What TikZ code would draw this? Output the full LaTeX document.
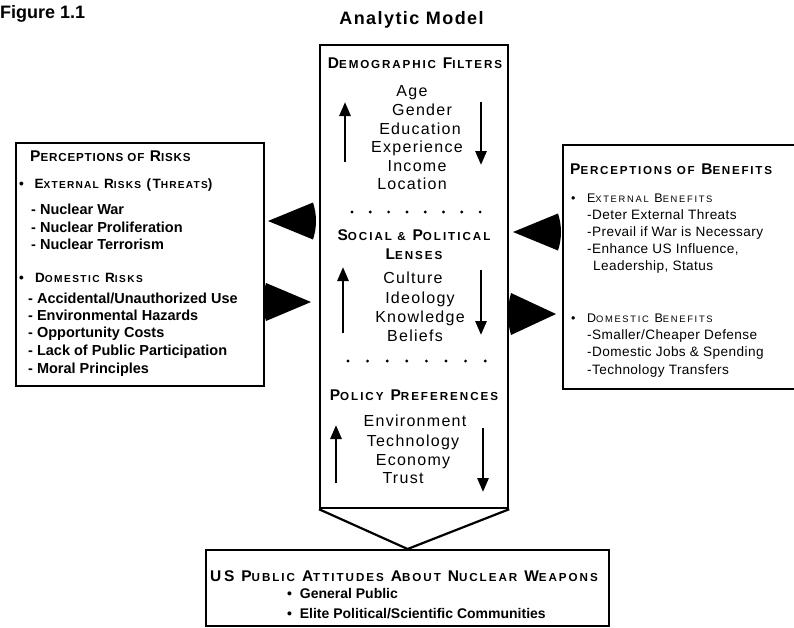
\documentclass[tikz,border=0pt]{standalone}
\usepackage{fontspec}
\setmainfont{Liberation Sans}
\usetikzlibrary{arrows.meta}
\makeatletter
% reduced capitals for the small-caps headings
\newcommand\lc[1]{{\fontsize{\fpeval{0.75*\f@size}}{\fpeval{0.75*\f@size}}\selectfont #1}}
\makeatother
\newcommand\spaced[1]{\addfontfeature{LetterSpace=#1}}

\tikzset{
  frame/.style={draw=black, line width=2.2pt, inner sep=0pt, anchor=north west},
  lbl/.style={inner sep=0pt, anchor=base west},
  mid/.style={inner sep=0pt, anchor=base},
  title/.style={font=\bfseries\fontsize{18}{18}\selectfont\spaced{#1}},
  head/.style={font=\bfseries\fontsize{15.5}{15.5}\selectfont\spaced{#1}},
  subhead/.style={font=\bfseries\fontsize{13.5}{13.5}\selectfont\spaced{#1}},
  subheadlight/.style={font=\fontsize{12.5}{12.5}\selectfont\spaced{#1}},
  risk/.style={font=\bfseries\fontsize{14.5}{14.5}\selectfont},
  benefit/.style={font=\fontsize{13.6}{13.6}\selectfont\spaced{3}},
  factor/.style={font=\fontsize{16}{16}\selectfont\spaced{8}},
  outitem/.style={font=\bfseries\fontsize{14}{14}\selectfont},
  updown/.style={line width=2.8pt, -{Triangle[length=14pt,width=11pt]}},
  chevron/.style={line width=2.2pt, line join=miter},
  pics/wedgeleft/.style={code={
    \fill (0,0) -- (45,-#1) .. controls (49,-#1/3) and (49,#1/3) .. (45,#1) -- cycle;}},
  pics/wedgeright/.style={code={
    \fill (0,0) -- (-45,-#1) .. controls (-49,-#1/3) and (-49,#1/3) .. (-45,#1) -- cycle;}},
}

\begin{document}
\begin{tikzpicture}[x=1pt, y=-1pt]
\useasboundingbox (0,0) rectangle (794,627);
\clip (0,0) rectangle (794,627);

% titles
\node[lbl, title=0] (fig) at (0,18.5) {Figure 1.1};
\node[mid, title=8] (model) at (411.5,24) {Analytic Model};

% frames
\node[frame, minimum width=188pt, minimum height=463pt] (core) at (319,44) {};
\node[frame, minimum width=248pt, minimum height=243pt] (risks) at (15,142) {};
\node[frame, minimum width=240pt, minimum height=244pt] (benefits) at (562,144) {};
\node[frame, minimum width=403pt, minimum height=76pt] (attitudes) at (205,549) {};

% funnel from the central column to the outcome box
\draw[chevron] (core.south west) -- (attitudes.north) -- (core.south east);

% central column: demographic filters
\node[mid, head=16] (demo) at (415,68.5) {D\lc{EMOGRAPHIC} F\lc{ILTERS}};
\node[mid, factor] (age) at (412,96) {Age};
\node[mid, factor] (gender) at (422,115) {Gender};
\node[mid, factor] (edu) at (420,134) {Education};
\node[mid, factor] (exp) at (417,152) {Experience};
\node[mid, factor] (inc) at (417,171) {Income};
\node[mid, factor] (loc) at (412,189) {Location};
\draw[updown] (345,162) -- (345,102);
\draw[updown] (481,102) -- (481,165);
\foreach \i in {0,...,7} \fill (352+\i*18.3,212) circle (1.6);

% social and political lenses
\node[mid, head=17] (social) at (414,240.5) {S\lc{OCIAL \&} P\lc{OLITICAL}};
\node[mid, head=17] (lenses) at (414,259.5) {L\lc{ENSES}};
\node[mid, factor] (cult) at (413,283) {Culture};
\node[mid, factor] (ideo) at (420,303) {Ideology};
\node[mid, factor] (know) at (420,322) {Knowledge};
\node[mid, factor] (bel) at (415,341) {Beliefs};
\draw[updown] (343,333) -- (343,267);
\draw[updown] (481,270) -- (481,335);
\foreach \i in {0,...,7} \fill (348+\i*19.6,361) circle (1.6);

% policy preferences
\node[mid, head=17] (policy) at (414,400.5) {P\lc{OLICY} P\lc{REFERENCES}};
\node[mid, factor] (env) at (415,426) {Environment};
\node[mid, factor] (tech) at (413,446) {Technology};
\node[mid, factor] (econ) at (413,465) {Economy};
\node[mid, factor] (trust) at (403,483) {Trust};
\draw[updown] (336,483) -- (336,425);
\draw[updown] (483,428) -- (483,492);

% perceptions of risks
\node[lbl, head=7] (riskhead) at (30,161) {P\lc{ERCEPTIONS OF} R\lc{ISKS}};
\node[lbl, subhead=12] (extrisk) at (19,188.5) {\textbullet\ \ E\lc{XTERNAL} R\lc{ISKS} (T\lc{HREATS})};
\node[lbl, risk] (r1) at (31,214) {- Nuclear War};
\node[lbl, risk] (r2) at (31,232) {- Nuclear Proliferation};
\node[lbl, risk] (r3) at (31,249) {- Nuclear Terrorism};
\node[lbl, subhead=14] (domrisk) at (19,282.5) {\textbullet\ \ D\lc{OMESTIC} R\lc{ISKS}};
\node[lbl, risk] (r4) at (28,303) {- Accidental/Unauthorized Use};
\node[lbl, risk] (r5) at (28,320) {- Environmental Hazards};
\node[lbl, risk] (r6) at (28,337) {- Opportunity Costs};
\node[lbl, risk] (r7) at (28,355) {- Lack of Public Participation};
\node[lbl, risk] (r8) at (28,373) {- Moral Principles};

% perceptions of benefits
\node[lbl, head=15] (benhead) at (570,174) {P\lc{ERCEPTIONS OF} B\lc{ENEFITS}};
\node[lbl, subheadlight=18] (extben) at (571,202.5) {\textbullet\ \ E\lc{XTERNAL} B\lc{ENEFITS}};
\node[lbl, benefit] (b1) at (587,219) {-Deter External Threats};
\node[lbl, benefit] (b2) at (587,236) {-Prevail if War is Necessary};
\node[lbl, benefit] (b3) at (587,253) {-Enhance US Influence,};
\node[lbl, benefit] (b4) at (593,270) {Leadership, Status};
\node[lbl, subheadlight=18] (domben) at (571,322.5) {\textbullet\ \ D\lc{OMESTIC} B\lc{ENEFITS}};
\node[lbl, benefit] (b5) at (587,339) {-Smaller/Cheaper Defense};
\node[lbl, benefit] (b6) at (587,356) {-Domestic Jobs \& Spending};
\node[lbl, benefit] (b7) at (587,374) {-Technology Transfers};

% outcome box
\node[lbl, head=17] (outhead) at (210,581) {US P\lc{UBLIC} A\lc{TTITUDES} A\lc{BOUT} N\lc{UCLEAR} W\lc{EAPONS}};
\node[lbl, outitem] (o1) at (287,598) {\textbullet\ \ General Public};
\node[lbl, outitem] (o2) at (287,618) {\textbullet\ \ Elite Political/Scientific Communities};

% flows between the perception boxes and the central column
\coordinate (riskin) at (268,221);
\coordinate (riskout) at (311,302);
\coordinate (benin) at (513,232);
\coordinate (benout) at (556,314);
\pic at (riskin) {wedgeleft=18.5};
\pic at (riskout) {wedgeright=19};
\pic at (benin) {wedgeleft=18.5};
\pic at (benout) {wedgeright=21};
\end{tikzpicture}
\end{document}
